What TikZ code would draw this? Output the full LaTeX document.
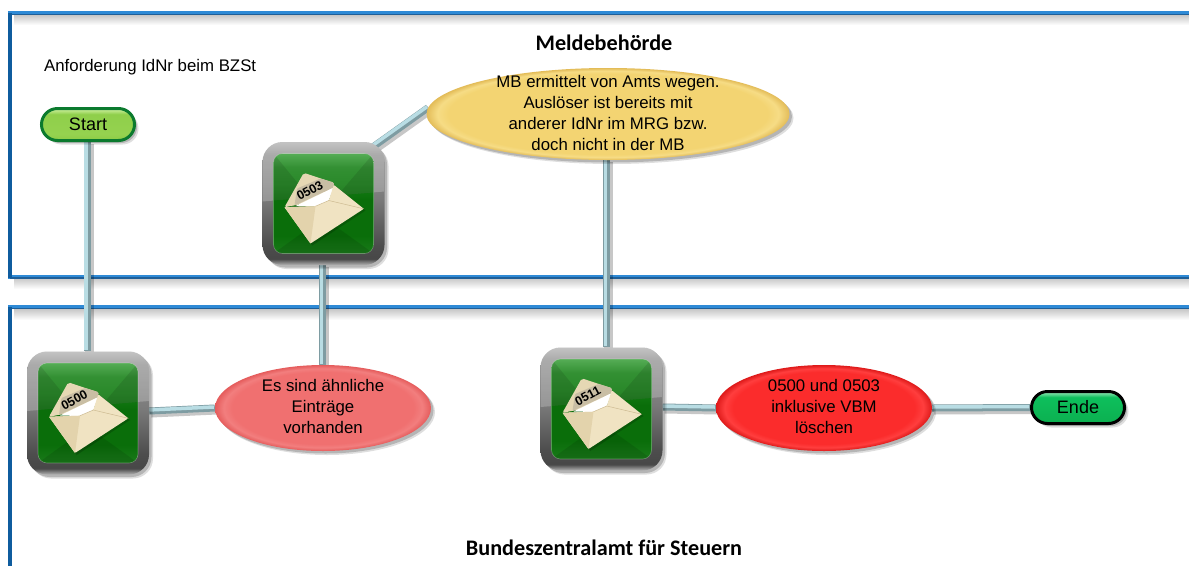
\documentclass[tikz,border=0pt]{standalone}
\usepackage{fontspec}
\setmainfont{Liberation Sans}
\newfontfamily\headfont{Carlito}
\usetikzlibrary{calc,shadows,shapes.geometric}
\pgfdeclarelayer{frames}
\pgfdeclarelayer{conn}
\pgfsetlayers{frames,conn,main}
\definecolor{fblue}{HTML}{2E8AD6}
\definecolor{fdark}{HTML}{1F5F98}
\definecolor{fleft}{HTML}{0F5C9E}
\definecolor{sa}{HTML}{8DCB45}
\definecolor{sb}{HTML}{95D24F}
\definecolor{sc}{HTML}{8FCF4B}
\definecolor{sd}{HTML}{C4EA92}
\definecolor{se}{HTML}{6FB838}
\definecolor{ea}{HTML}{0CB050}
\definecolor{eb}{HTML}{0DBF5C}
\definecolor{ec}{HTML}{7FE0A8}
\definecolor{ed}{HTML}{0DA850}
\definecolor{sgreen}{HTML}{0B7A2E}
\definecolor{ya}{HTML}{F3D472}
\definecolor{yh}{HTML}{F6DC85}
\definecolor{yb}{HTML}{E3BC58}
\definecolor{pa}{HTML}{F07070}
\definecolor{ph}{HTML}{F27E7E}
\definecolor{pb}{HTML}{E55C5C}
\definecolor{ra}{HTML}{FB2C2C}
\definecolor{rh}{HTML}{FF3E3E}
\definecolor{rb}{HTML}{DE1A1A}
\definecolor{cbase}{HTML}{7E9CA2}
\definecolor{ctop}{HTML}{B9DDE4}
\definecolor{gla}{HTML}{1A7A1A}
\definecolor{glb}{HTML}{0A6E0A}
\definecolor{glc}{HTML}{167E16}
\definecolor{gld}{HTML}{1F851F}
\definecolor{gle}{HTML}{45A545}
\definecolor{envback}{HTML}{E6D8B4}
\definecolor{envgray}{HTML}{C9BEA4}
\definecolor{envfront}{HTML}{F0E3C2}
\definecolor{envleft}{HTML}{E3D3AC}
\definecolor{envline}{HTML}{CDBB92}
\pgfdeclareverticalshading{iconring}{100bp}{color(0bp)=(black!28); color(25bp)=(black!30); color(27.5bp)=(black!72); color(33bp)=(black!70); color(52bp)=(black!52); color(70bp)=(black!42); color(75bp)=(black!30); color(100bp)=(black!30)}
\pgfdeclareverticalshading{iconglass}{100bp}{color(0bp)=(gla); color(25bp)=(gla); color(34bp)=(glb); color(52bp)=(glb); color(60bp)=(glc); color(68bp)=(gld); color(75bp)=(gle); color(100bp)=(gle)}
\pgfdeclareverticalshading{pillstart}{100bp}{color(0bp)=(sa); color(25bp)=(sa); color(35bp)=(sb); color(66bp)=(sc); color(73bp)=(sd); color(75bp)=(se); color(100bp)=(se)}
\pgfdeclareverticalshading{pillende}{100bp}{color(0bp)=(ea); color(25bp)=(ea); color(66bp)=(eb); color(73bp)=(ec); color(75bp)=(ed); color(100bp)=(ed)}
\pgfdeclareradialshading{ybevel}{\pgfpoint{0bp}{0bp}}{color(0bp)=(ya); color(22bp)=(ya); color(23.5bp)=(yh); color(25bp)=(yb); color(50bp)=(yb)}
\pgfdeclareradialshading{pbevel}{\pgfpoint{0bp}{0bp}}{color(0bp)=(pa); color(21bp)=(pa); color(23bp)=(ph); color(25bp)=(pb); color(50bp)=(pb)}
\pgfdeclareradialshading{rbevel}{\pgfpoint{0bp}{0bp}}{color(0bp)=(ra); color(21bp)=(ra); color(23bp)=(rh); color(25bp)=(rb); color(50bp)=(rb)}
\newcommand{\zbox}[1]{\raisebox{-10pt}{\makebox[0pt][c]{\smash{\begin{tabular}[c]{@{}c@{}}#1\end{tabular}}}}}
\tikzset{
  softshadow/.style={drop shadow={shadow xshift=4pt,shadow yshift=-4pt,fill=black,opacity=.13},drop shadow={shadow xshift=2.5pt,shadow yshift=-2.5pt,fill=black,opacity=.18}},
  bubble/.style={ellipse,inner sep=0pt,minimum width=#1,softshadow},
  icon/.style={rectangle,rounded corners=20pt,minimum width=122pt,minimum height=123pt,inner sep=0pt,shading=iconring,softshadow},
  pillnode/.style={rectangle,rounded corners=16pt,minimum width=93pt,minimum height=32pt,inner sep=0pt,line width=3pt,softshadow,font=\fontsize{18}{20}\selectfont},
  labeltext/.style={font=\fontsize{16.8}{21}\selectfont,text=black},
  heading/.style={font=\headfont\bfseries\fontsize{22.2}{24}\selectfont,inner sep=0pt,text=black},
  note/.style={font=\fontsize{16.8}{19}\selectfont,inner sep=0pt,anchor=west},
  conshadow/.style={draw=black,line width=9pt,opacity=.22},
  conbase/.style={draw=cbase,line width=7pt},
  contop/.style={draw=ctop,line width=3.5pt},
  framemain/.style={draw=fblue,line width=4pt},
  frameshadow/.style={top color=black!22,bottom color=white},
}
\newcommand{\conline}[2]{%
  \begin{pgfonlayer}{conn}
    \draw[conshadow] ($#1+(2,2)$) -- ($#2+(2,2)$);
    \draw[conbase] #1 -- #2;
    \draw[contop] ($#1+(-1,-1)$) -- ($#2+(-1,-1)$);
  \end{pgfonlayer}}
\newcommand{\envicon}[4]{%
  \node[icon] (#1) at (#2,#3) {};
  \begin{scope}[shift={(#2,#3)}]
    \begin{scope}
      \clip[rounded corners=20pt] (-61,-61.5) rectangle (61,61.5);
      \fill[white,opacity=.22] (-61,-61.5) -- (61,-61.5) -- (61,-12) -- (-61,-2) -- cycle;
    \end{scope}
    \begin{scope}
      \clip[rounded corners=9pt] (-50,-50) rectangle (50,50);
      \shade[shading=iconglass] (-50,-50) rectangle (50,50);
      \fill[white,opacity=.09] (-50,-50) -- (50,-50) -- (50,-11) -- (-50,-3) -- cycle;
      \fill[black,opacity=.10] (-50,-50) -- (-50,-3) -- (-14,-6) -- cycle;
      \fill[black,opacity=.10] (50,-50) -- (50,-11) -- (14,-8) -- cycle;
      \fill[black,opacity=.10] (-50,50) -- (50,50) -- (0,14) -- cycle;
    \end{scope}
    \draw[white,opacity=.3,line width=.6pt,rounded corners=9pt] (-50,-50) rectangle (50,50);
    \fill[black,opacity=.18] (-35,6) -- (-11.3,42) -- (42,7) -- (13,-17) -- cycle;
    \fill[envback,rounded corners=2pt] (-39,3.7) -- (-19.7,-30.7) -- (10.3,-20.7) -- (10.3,-18) -- (2.7,-4) -- (-29.7,2) -- cycle;
    \fill[envgray,rounded corners=1pt] (-29,2) -- (-26.5,-15) -- (-3,-25) -- (10.3,-21) -- (10.3,-16) -- cycle;
    \fill[white] (-28,2.5) -- (10.3,-16) -- (5.3,-3) -- (-3.7,2) -- (-8,3) -- cycle;
    \fill[envfront,rounded corners=1pt] (-39,3.7) -- (-8,2.7) -- (5.3,-3) -- (10.3,-18.7) -- (40.3,5.3) -- (-13,40) -- cycle;
    \fill[envleft] (-39,3.7) -- (-8,2.7) -- (-13,40) -- cycle;
    \draw[envline,line width=.5pt] (-8,2.7) -- (5.3,-3) -- (40.3,5.3);
    \node[rotate=28,font=\bfseries\fontsize{12.5}{13}\selectfont,inner sep=0pt,text=black] (#1t) at (-13.7,-13) {#4};
  \end{scope}}
\begin{document}
\begin{tikzpicture}[x=1pt,y=-1pt]
\useasboundingbox (0,0) rectangle (1189,566);
\begin{pgfonlayer}{frames}
  \fill[white] (0,0) rectangle (1189,566);
  \shade[frameshadow] (14,15) rectangle (1189,25);
  \shade[frameshadow] (14,278) rectangle (1189,289);
  \shade[frameshadow] (14,309) rectangle (1189,320);
  \draw[framemain] (1189,13) -- (10,13) -- (10,276.5) -- (1189,276.5);
  \draw[framemain] (1189,307) -- (10,307) -- (10,566);
  \draw[fdark,line width=1.2pt] (10,14.6) -- (1189,14.6) (10,278) -- (1189,278) (10,308.6) -- (1189,308.6);
  \draw[fleft,line width=4pt] (10,13) -- (10,278) (10,307) -- (10,566);
\end{pgfonlayer}

\node[heading] (mb) at (604,43) {Meldebehörde};
\node[heading] (bz) at (604,548) {Bundeszentralamt für Steuern};
\node[note] (anf) at (44,67) {Anforderung IdNr beim BZSt};

\node[pillnode,draw=sgreen,shading=pillstart] (start) at (88,124.5) {Start};
\node[pillnode,draw=black,shading=pillende] (ende) at (1078,407.5) {Ende};

\node[bubble=363pt,minimum height=92pt,shading=ybevel,labeltext] (yellow) at (608,114) {\zbox{MB ermittelt von Amts wegen.\\Auslöser ist bereits mit\\anderer IdNr im MRG bzw.\\doch nicht in der MB}};
\node[bubble=216pt,minimum height=86pt,shading=pbevel,labeltext] (pink) at (323,408) {\zbox{Es sind ähnliche\\Einträge\\vorhanden}};
\node[bubble=216pt,minimum height=86pt,shading=rbevel,labeltext] (red) at (824,408) {\zbox{0500 und 0503\\inklusive VBM\\löschen}};

\envicon{ia}{88}{413}{0500}
\envicon{ib}{323.5}{203.5}{0503}
\envicon{ic}{601.5}{409}{0511}

\conline{($(start.south)+(-1,0)$)}{($(ia.north)+(-1,0)$)}
\conline{($(ib.south)+(-1,0)$)}{($(pink.north)+(-.5,0)$)}
\conline{($(ib.north east)+(-13,6)$)}{(yellow.178)}
\conline{($(yellow.south)+(-1.5,0)$)}{($(ic.north)+(5,0)$)}
\conline{($(ia.east)+(0,-2)$)}{(pink.west)}
\conline{($(ic.east)+(0,-2)$)}{(red.west)}
\conline{(red.east)}{(ende.west)}
\end{tikzpicture}
\end{document}
